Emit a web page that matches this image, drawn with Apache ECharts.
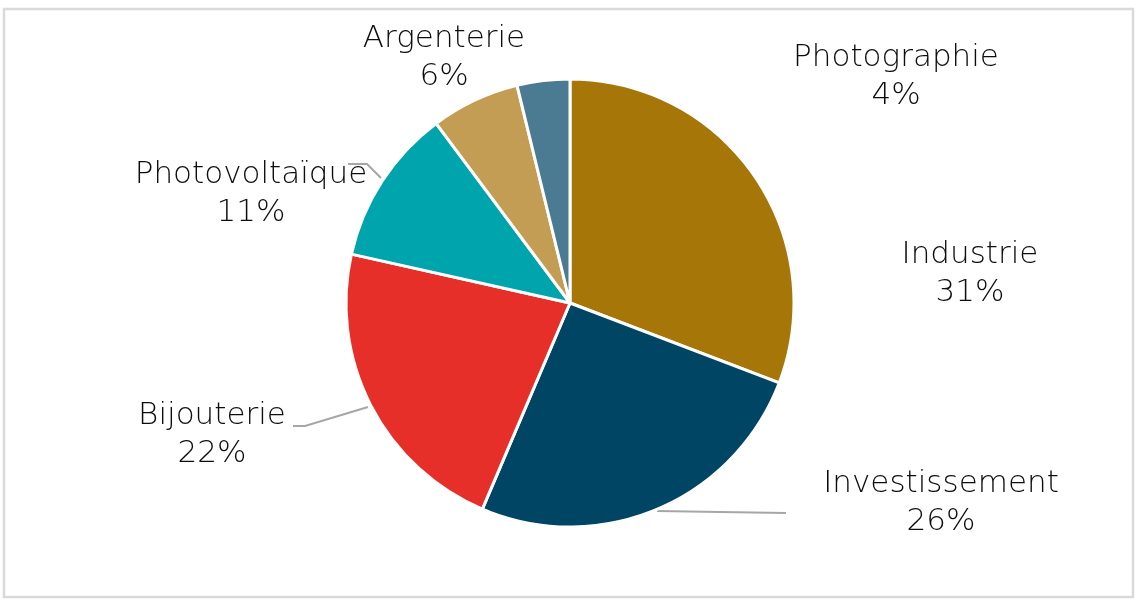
<!DOCTYPE html>
<html>
<head>
<meta charset="utf-8">
<script src="https://cdn.jsdelivr.net/npm/echarts@6/dist/echarts.min.js"></script>
<style>
html,body{margin:0;padding:0;background:#fff;}
#chart{width:1141px;height:616px;}
</style>
</head>
<body>
<div id="chart"></div>
<script>
// Data
const categories = ['Industrie', 'Investissement', 'Bijouterie', 'Photovoltaïque', 'Argenterie', 'Photographie'];
const values = [30.8, 25.6, 22.1, 11.3, 6.4, 3.8];
const colors = ['#A67608', '#004664', '#E72F2A', '#00A4AC', '#C49D55', '#4B7B92'];

// Label placement (layout, not data)
const labelPos = [[970, 274], [941, 503], [212, 435], [251, 194], [444, 58], [896, 77]];
const leaderLines = {
  1: [[657, 511], [720, 512], [786, 513]],
  2: [[368, 407], [305, 426], [293, 426]],
  3: [[381, 178], [367, 164], [348, 164]]
};

const chart = echarts.init(document.getElementById('chart'), null, {renderer: 'canvas'});
const FONT = '"DejaVu Sans"';

chart.setOption({
  animation: false,
  backgroundColor: '#fff',
  graphic: [{
    type: 'rect',
    shape: {x: 4, y: 9, width: 1129, height: 588},
    style: {fill: 'none', stroke: '#d9d9d9', lineWidth: 2.5},
    z: -1
  }],
  series: [{
    type: 'pie',
    center: [570, 303],
    radius: 224,
    startAngle: 90,
    clockwise: true,
    avoidLabelOverlap: false,
    itemStyle: {borderColor: '#ffffff', borderWidth: 3},
    label: {
      show: true,
      formatter: p => p.name + '\n' + Math.round(p.percent) + '%',
      fontFamily: FONT,
      fontSize: 31,
      fontWeight: 200,
      lineHeight: 38,
      color: '#0d0d0d',
      align: 'center'
    },
    labelLine: {show: false, lineStyle: {color: '#a6a6a6', width: 2}},
    labelLayout: function (params) {
      const i = params.dataIndex;
      const out = {x: labelPos[i][0], y: labelPos[i][1], align: 'center', verticalAlign: 'middle'};
      if (leaderLines[i]) out.labelLinePoints = leaderLines[i];
      return out;
    },
    data: categories.map((c, i) => ({
      name: c,
      value: values[i],
      itemStyle: {color: colors[i]},
      labelLine: {show: !!leaderLines[i]}
    }))
  }]
});
</script>
</body>
</html>
